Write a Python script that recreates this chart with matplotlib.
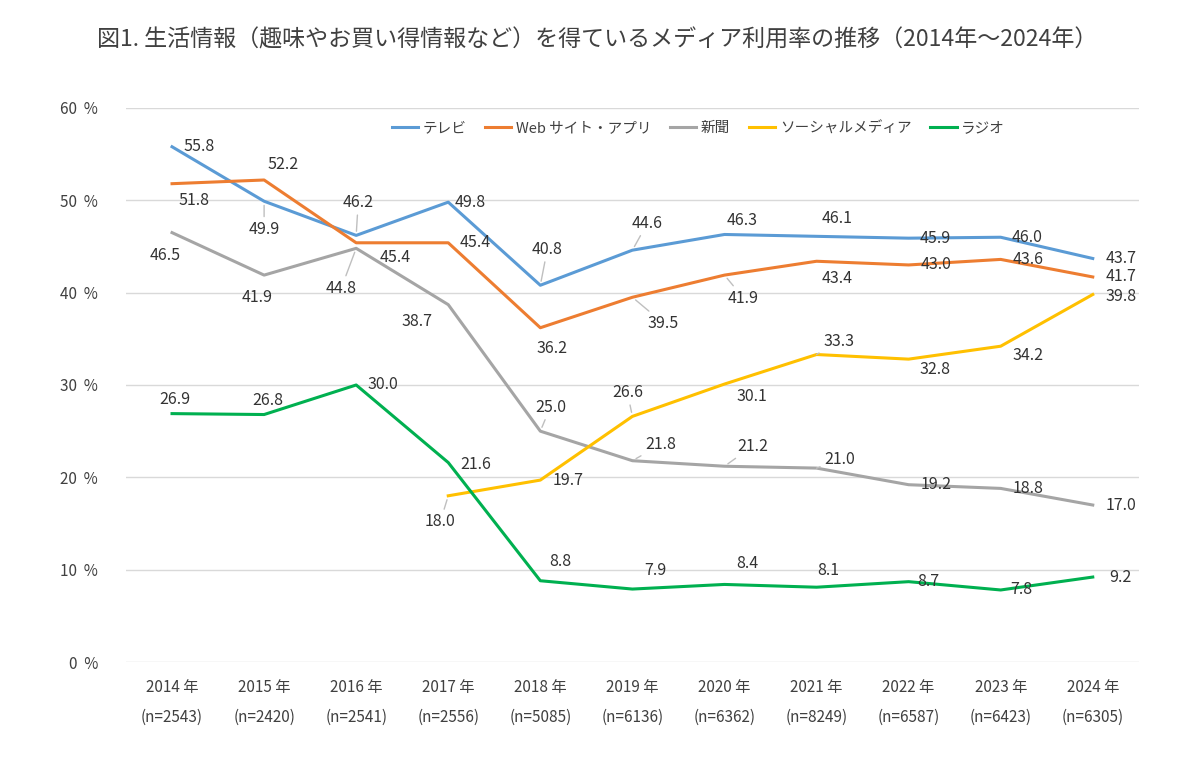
import numpy as np
import matplotlib.pyplot as plt

plt.rcParams['font.family'] = ['Noto Sans CJK JP', 'DejaVu Sans']

# データ
years = ["2014 年", "2015 年", "2016 年", "2017 年", "2018 年", "2019 年",
         "2020 年", "2021 年", "2022 年", "2023 年", "2024 年"]
n_counts = ["(n=2543)", "(n=2420)", "(n=2541)", "(n=2556)", "(n=5085)", "(n=6136)",
            "(n=6362)", "(n=8249)", "(n=6587)", "(n=6423)", "(n=6305)"]

tv = [55.8, 49.9, 46.2, 49.8, 40.8, 44.6, 46.3, 46.1, 45.9, 46.0, 43.7]
web = [51.8, 52.2, 45.4, 45.4, 36.2, 39.5, 41.9, 43.4, 43.0, 43.6, 41.7]
paper = [46.5, 41.9, 44.8, 38.7, 25.0, 21.8, 21.2, 21.0, 19.2, 18.8, 17.0]
social = [np.nan, np.nan, np.nan, 18.0, 19.7, 26.6, 30.1, 33.3, 32.8, 34.2, 39.8]
radio = [26.9, 26.8, 30.0, 21.6, 8.8, 7.9, 8.4, 8.1, 8.7, 7.8, 9.2]

# ラベルの位置 (ピクセル単位のずれ)
tv_off = [(27, 0), (0, -28), (2, 33), (22, 0), (7, 36), (15, 27), (18, 14), (21, 18), (27, 0), (26, 0), (28, 0)]
web_off = [(22, -17), (19, 15), (39, -15), (27, 0), (12, -21), (31, -26), (19, -23), (21, -17), (27, 0), (27, 0), (28, 0)]
paper_off = [(-7, -23), (-7, -22), (-15, -40), (-31, -17), (10, 24), (28, 16), (28, 20), (23, 9), (28, 0), (27, 0), (28, 0)]
social_off = [None, None, None, (-8, -26), (28, 0), (-5, 24), (27, -12), (22, 13), (26, -10), (27, -9), (28, -2)]
radio_off = [(3, 14), (4, 14), (27, 0), (27, -2), (20, 19), (23, 19), (23, 21), (12, 17), (20, 0), (21, 0), (28, 0)]

tv_lead = [1, 2, 4, 5]
web_lead = [5, 6]
paper_lead = [2, 4, 5, 6, 7]
social_lead = [3, 5, 7]
radio_lead = []

series = [
    ("テレビ", tv, "#5B9BD5", tv_off, tv_lead),
    ("Web サイト・アプリ", web, "#ED7D31", web_off, web_lead),
    ("新聞", paper, "#A5A5A5", paper_off, paper_lead),
    ("ソーシャルメディア", social, "#FFC000", social_off, social_lead),
    ("ラジオ", radio, "#00B050", radio_off, radio_lead),
]

fig = plt.figure(figsize=(12, 7.74), dpi=100)
ax = fig.add_axes([0.105, 0.1447, 0.844, 0.7158])

x = np.arange(len(years))
for name, vals, col, offs, leads in series:
    ax.plot(x, vals, color=col, lw=2.2, label=name, zorder=3)
    for i, v in enumerate(vals):
        if np.isnan(v):
            continue
        dx, dy = offs[i]
        arrow = None
        if i in leads:
            arrow = dict(arrowstyle='-', color='#BFBFBF', lw=1, shrinkA=1, shrinkB=3)
        ax.annotate(f"{v:.1f}", (x[i], v), xytext=(dx, dy), textcoords='offset pixels',
                    ha='center', va='center', fontsize=11.5, color='#333333',
                    arrowprops=arrow, zorder=4)

ax.set_xlim(-0.5, 10.5)
ax.set_ylim(0, 60)
ax.set_yticks([0, 10, 20, 30, 40, 50, 60])
ax.set_yticklabels([f"{t}  %" for t in [0, 10, 20, 30, 40, 50, 60]])
ax.set_xticks(x)
ax.set_xticklabels([f"{y}\n{n}" for y, n in zip(years, n_counts)], linespacing=2.0)
ax.tick_params(axis='both', length=0, labelsize=11, labelcolor='#404040')
ax.tick_params(axis='x', pad=12)
ax.tick_params(axis='y', pad=20)
ax.grid(axis='y', color='#D9D9D9', lw=1)
ax.set_axisbelow(True)
for s in ax.spines.values():
    s.set_visible(False)

ax.legend(loc='upper center', bbox_to_anchor=(0.565, 1.0), ncol=5, frameon=False,
          fontsize=10.5, handlelength=1.8, handletextpad=0.3, columnspacing=1.3,
          labelcolor='#404040')

fig.text(0.498, 0.948, "図1. 生活情報（趣味やお買い得情報など）を得ているメディア利用率の推移（2014年～2024年）",
         ha='center', va='center', fontsize=16.6, color='#404040')

fig.savefig("out.png", dpi=100)
